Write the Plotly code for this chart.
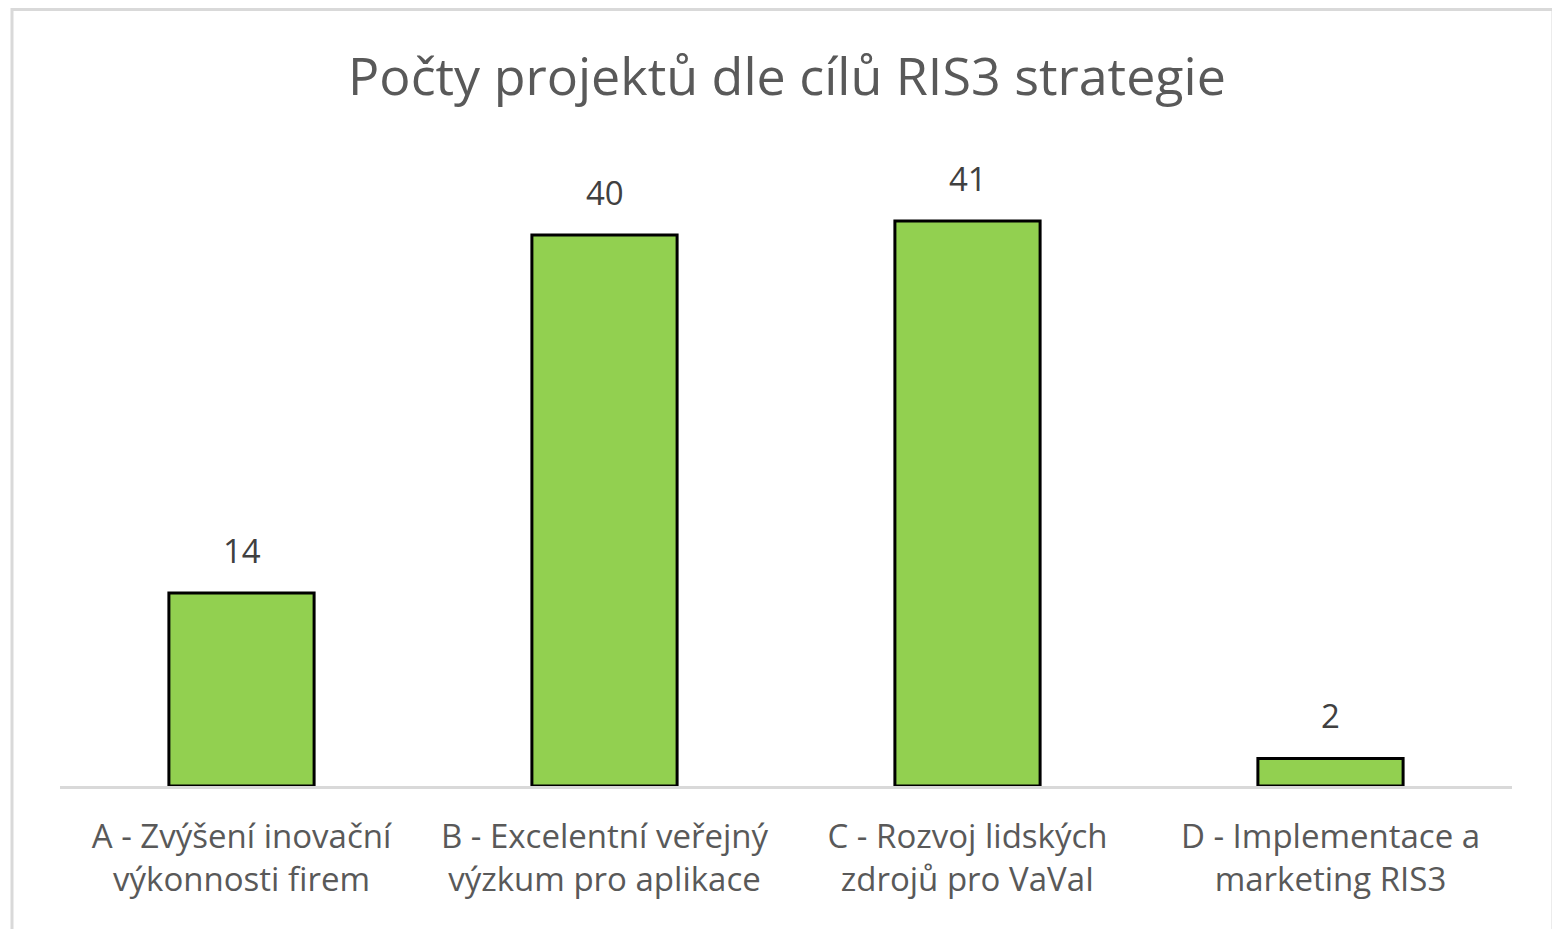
import plotly.graph_objects as go

categories = [
    "A - Zvýšení inovační<br>výkonnosti firem",
    "B - Excelentní veřejný<br>výzkum pro aplikace",
    "C - Rozvoj lidských<br>zdrojů pro VaVaI",
    "D - Implementace a<br>marketing RIS3",
]
values = [14, 40, 41, 2]
title_text = "Počty projektů dle cílů RIS3 strategie"

FONT = "Open Sans"
W, H = 1560, 929
L, R, T, B = 52, 56, 158, 151
PW, PH = W - L - R, H - T - B

fig = go.Figure(
    go.Bar(
        x=categories,
        y=values,
        width=0.4,
        marker=dict(color="#92D050", line=dict(color="#000000", width=3)),
        hoverinfo="x+y",
    )
)

for c, v in zip(categories, values):
    fig.add_annotation(
        x=c,
        y=v,
        text=str(v),
        showarrow=False,
        yanchor="bottom",
        yshift=18,
        font=dict(family=FONT, size=33, color="#404040"),
    )

fig.update_layout(
    width=W,
    height=H,
    margin=dict(l=L, r=R, t=T, b=B),
    paper_bgcolor="white",
    plot_bgcolor="white",
    showlegend=False,
    title=dict(
        text=title_text,
        x=779 / W,
        xanchor="center",
        y=1 - 69 / H,
        yanchor="middle",
        font=dict(family=FONT, size=52, color="#595959"),
    ),
    xaxis=dict(
        showline=True,
        linecolor="#D9D9D9",
        linewidth=3,
        ticks="",
        ticklabelstandoff=19,
        tickfont=dict(family=FONT, size=33, color="#595959"),
        showgrid=False,
        zeroline=False,
    ),
    yaxis=dict(
        range=[0, 45],
        visible=False,
        showgrid=False,
        zeroline=False,
    ),
    shapes=[
        dict(
            type="rect",
            xref="paper",
            yref="paper",
            x0=(4 - L) / PW,
            x1=(1545 - L) / PW,
            y0=-(B + 30) / PH,
            y1=(PH + T - 1.5) / PH,
            line=dict(color="#D9D9D9", width=3),
            fillcolor="rgba(0,0,0,0)",
            layer="below",
        )
    ],
)

fig.write_html("out.html")
